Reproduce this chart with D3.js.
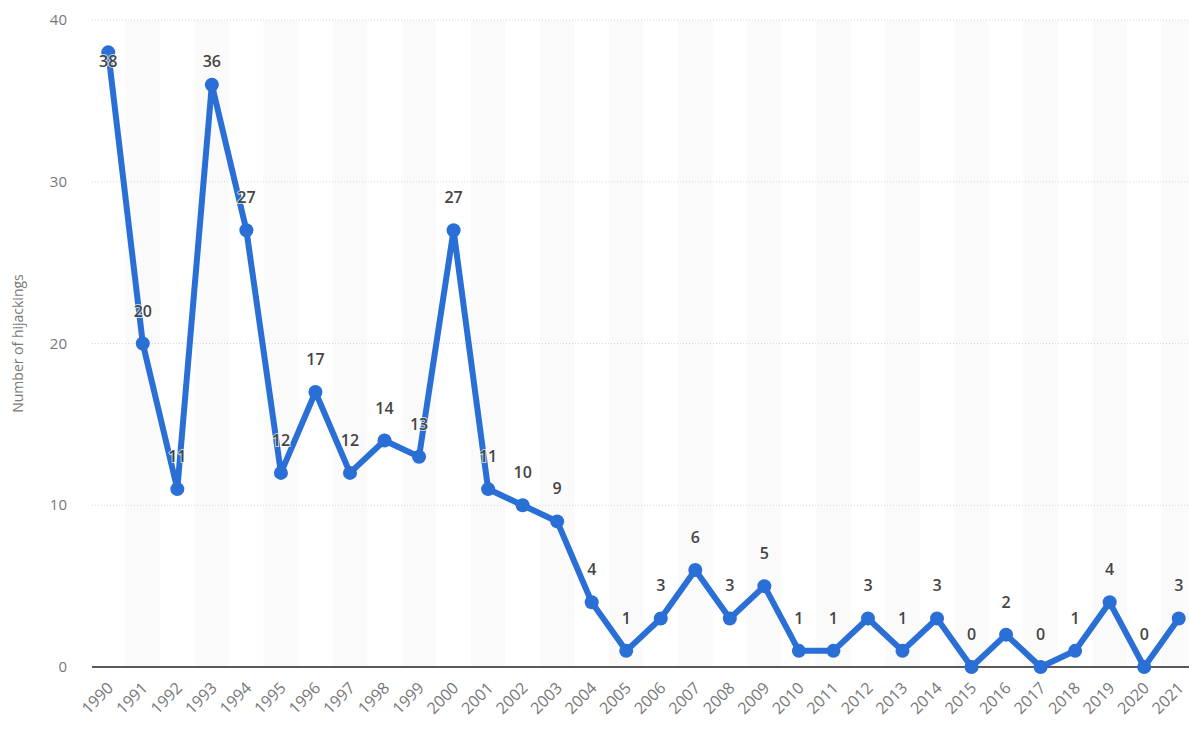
<!DOCTYPE html>
<html>
<head>
<meta charset="utf-8">
<script src="https://cdn.jsdelivr.net/npm/d3@7"></script>
<style>
  body { margin: 0; background: #fff; }
  text { font-family: "Open Sans", sans-serif; }
</style>
</head>
<body>
<script>
const years = ["1990","1991","1992","1993","1994","1995","1996","1997","1998","1999","2000",
  "2001","2002","2003","2004","2005","2006","2007","2008","2009","2010",
  "2011","2012","2013","2014","2015","2016","2017","2018","2019","2020","2021"];
const hijackings = [38,20,11,36,27,12,17,12,14,13,27,11,10,9,4,1,3,6,3,5,1,1,3,1,3,0,2,0,1,4,0,3];
const yTicks = [0,10,20,30,40];

const w = 1189, h = 734;
const svg = d3.select("body").append("svg").attr("width", w).attr("height", h);

const x = d3.scaleBand().domain(years).range([91, 1196]);
const y = d3.scaleLinear().domain([0, 40]).range([667, 20]);

// alternating column bands
svg.selectAll("rect.band")
  .data(years.filter((d, i) => i % 2 == 1))
  .enter().append("rect")
  .attr("class", "band")
  .attr("x", d => x(d))
  .attr("y", y(40))
  .attr("width", x.bandwidth())
  .attr("height", y(0) - y(40))
  .attr("fill", "#fafafa");

// grid lines
svg.selectAll("line.grid")
  .data(yTicks.filter(d => d > 0))
  .enter().append("line")
  .attr("x1", 92).attr("x2", w)
  .attr("y1", d => y(d)).attr("y2", d => y(d))
  .attr("stroke", "#d8d8d8")
  .attr("stroke-dasharray", "1,2");

svg.append("line")
  .attr("x1", 92).attr("x2", w)
  .attr("y1", y(0)).attr("y2", y(0))
  .attr("stroke", "#222").attr("stroke-width", 1.5);

// y axis labels
svg.selectAll("text.ytick")
  .data(yTicks)
  .enter().append("text")
  .attr("x", 67)
  .attr("y", d => y(d) + 5)
  .attr("text-anchor", "end")
  .attr("font-size", 15)
  .attr("fill", "#777")
  .text(d => d);

svg.append("text")
  .attr("transform", "translate(23," + y(20) + ") rotate(-90)")
  .attr("text-anchor", "middle")
  .attr("font-size", 14)
  .attr("fill", "#777")
  .text("Number of hijackings");

// x axis labels
const cx = d => x(d) + x.bandwidth() / 2;
svg.selectAll("text.xtick")
  .data(years)
  .enter().append("text")
  .attr("transform", d => "translate(" + (cx(d) + 6) + ",689) rotate(-45)")
  .attr("text-anchor", "end")
  .attr("font-size", 16)
  .attr("fill", "#777")
  .text(d => d);

// line
const line = d3.line()
  .x((d, i) => cx(years[i]))
  .y(d => y(d));

svg.append("path")
  .datum(hijackings)
  .attr("d", line)
  .attr("fill", "none")
  .attr("stroke", "#2a6fd6")
  .attr("stroke-width", 6)
  .attr("stroke-linejoin", "round");

svg.selectAll("circle.pt")
  .data(hijackings)
  .enter().append("circle")
  .attr("cx", (d, i) => cx(years[i]))
  .attr("cy", d => y(d))
  .attr("r", 7)
  .attr("fill", "#2a6fd6");

// value labels
svg.selectAll("text.val")
  .data(hijackings)
  .enter().append("text")
  .attr("x", (d, i) => cx(years[i]))
  .attr("y", d => Math.max(y(d) - 27, 67))
  .attr("text-anchor", "middle")
  .attr("font-size", 16)
  .attr("font-weight", 600)
  .attr("fill", "#444")
  .attr("stroke", "#fff")
  .attr("stroke-width", 2)
  .attr("stroke-opacity", 0.7)
  .attr("paint-order", "stroke")
  .text(d => d);
</script>
</body>
</html>
